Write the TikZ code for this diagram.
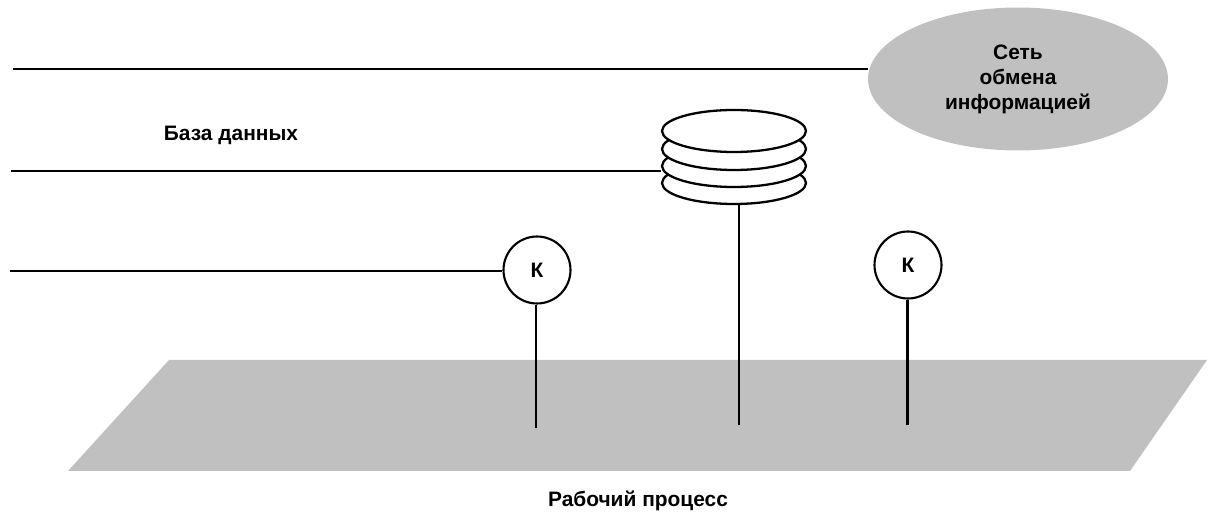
\documentclass[tikz,border=0pt]{standalone}
\usepackage{fontspec}
\setmainfont{Liberation Sans}
\usetikzlibrary{shapes.geometric}
\definecolor{plane}{HTML}{C0C0C0}
\tikzset{
  lbl/.style={font=\bfseries\fontsize{11.9}{14.2}\selectfont, inner sep=0pt, align=center},
  wire/.style={line width=1.7pt},
  disk/.style={ellipse, draw, line width=1.3pt, fill=white, minimum width=2.88cm, minimum height=0.84cm, inner sep=0pt},
  kbox/.style={circle, draw, line width=1.2pt, fill=white, minimum size=1.34cm, inner sep=0pt, font=\bfseries\fontsize{11.9}{14.2}\selectfont},
  netbox/.style={ellipse, fill=plane, minimum width=6cm, minimum height=2.86cm, inner sep=0pt, align=center, font=\bfseries\fontsize{11.9}{14.2}\selectfont}
}
\begin{document}
\begin{tikzpicture}[x=0.02cm,y=-0.02cm]
\useasboundingbox (0,0) rectangle (1208,516);
% work plane
\fill[plane] (169,360) -- (1207,360) -- (1130,471) -- (68,471) -- cycle;
% network ellipse
\node[netbox] (net) at (1018,79) {Сеть\\обмена\\информацией};
% database stack
\node[disk] (d4) at (734,183) {};
\node[disk] (d3) at (734,166) {};
\node[disk] (d2) at (734,149) {};
\node[disk] (d1) at (734,131) {};
% controllers
\node[kbox] (k1) at (537,270) {К};
\node[kbox] (k2) at (908,265) {К};
% coordinates
\coordinate (l1) at (13,69);
\coordinate (l2) at (11,171);
\coordinate (l3) at (10,271);
\coordinate (b1) at (536,428);
\coordinate (b2) at (739,425);
\coordinate (b3) at (907,425);
% connectors
\draw[wire] (l1) -- (l1 -| net.west);
\draw[wire] (l2) -- (l2 -| d3.west);
\draw[wire] (l3) -- (l3 -| k1.west);
\draw[wire] (b1 |- k1.south) -- (b1);
\draw[wire] (b2 |- d4.south) -- (b2);
\draw[wire] (b3 |- k2.south) -- (b3);
% labels
\node[lbl] (db) at (231,135) {База данных};
\node[lbl] (wp) at (638,501) {Рабочий процесс};
\end{tikzpicture}
\end{document}
